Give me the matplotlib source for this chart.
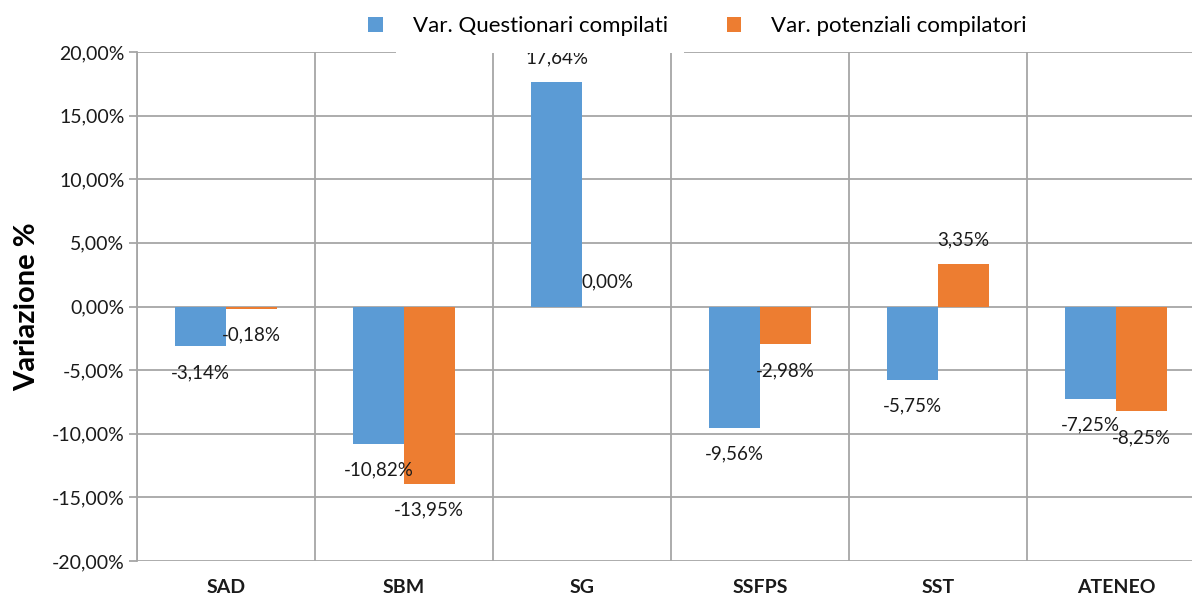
import matplotlib
matplotlib.use("Agg")
import matplotlib.pyplot as plt
import numpy as np

# data (percent)
categories = ["SAD", "SBM", "SG", "SSFPS", "SST", "ATENEO"]
var_questionari = [-3.14, -10.82, 17.64, -9.56, -5.75, -7.25]
var_potenziali = [-0.18, -13.95, 0.00, -2.98, 3.35, -8.25]
series_names = ["Var. Questionari compilati", "Var. potenziali compilatori"]
yticks = [-20, -15, -10, -5, 0, 5, 10, 15, 20]

plt.rcParams['font.family'] = ['Lato', 'DejaVu Sans']
blue, orange, grid = '#5B9BD5', '#ED7D31', '#A6A6A6'

fig = plt.figure(figsize=(11.92, 5.96), dpi=100)
ax = fig.add_axes([137/1192, 1 - 561/596, 1068/1192, 509/596])

x = np.arange(len(categories))
w = 0.285
b1 = ax.bar(x - w/2, var_questionari, w, color=blue, label=series_names[0], zorder=3)
b2 = ax.bar(x + w/2, var_potenziali, w, color=orange, label=series_names[1], zorder=3)

def fmt(v):
    return ("%.2f%%" % v).replace(".", ",")

# data labels, Excel style
for xs, vals in ((x - w/2, var_questionari), (x + w/2, var_potenziali)):
    for xi, v in zip(xs, vals):
        yy = v - 2.05 if v < 0 else v + 1.9
        ax.text(xi, yy, fmt(v), ha='center', va='center', fontsize=13.5, color='#1a1a1a', zorder=4)

ax.set_xlim(-0.5, len(categories) - 0.5)
ax.set_ylim(-20, 20)
ax.set_yticks(yticks)
ax.set_yticklabels([("%.2f%%" % t).replace(".", ",") for t in yticks], fontsize=14, color='#1a1a1a')
ax.set_xticks(x)
ax.set_xticklabels(categories, fontsize=14, fontweight='bold', color='#1a1a1a')
ax.set_xticks(np.arange(len(categories) + 1) - 0.5, minor=True)
ax.tick_params(axis='x', which='both', length=0, pad=13)
ax.tick_params(axis='y', length=6, color=grid, width=1.3, pad=3)

ax.grid(axis='y', which='major', color=grid, linewidth=1.3, zorder=0)
ax.grid(axis='x', which='minor', color=grid, linewidth=1.3, zorder=0)
for s in ['top', 'right', 'bottom']:
    ax.spines[s].set_visible(False)
ax.spines['left'].set_color(grid)
ax.spines['left'].set_linewidth(1.3)

ax.set_ylabel("Variazione %", fontsize=21, fontweight='bold', labelpad=8)

leg = fig.legend(handles=[b1, b2], loc='center', bbox_to_anchor=(0.585, 0.956), ncol=2,
                 frameon=False, fontsize=16, handlelength=0.65, handleheight=0.65,
                 handletextpad=1.35, columnspacing=2.65)
leg.get_texts()[0].set_bbox(dict(facecolor='white', edgecolor='none', pad=12))

fig.savefig("out.png", dpi=100)
